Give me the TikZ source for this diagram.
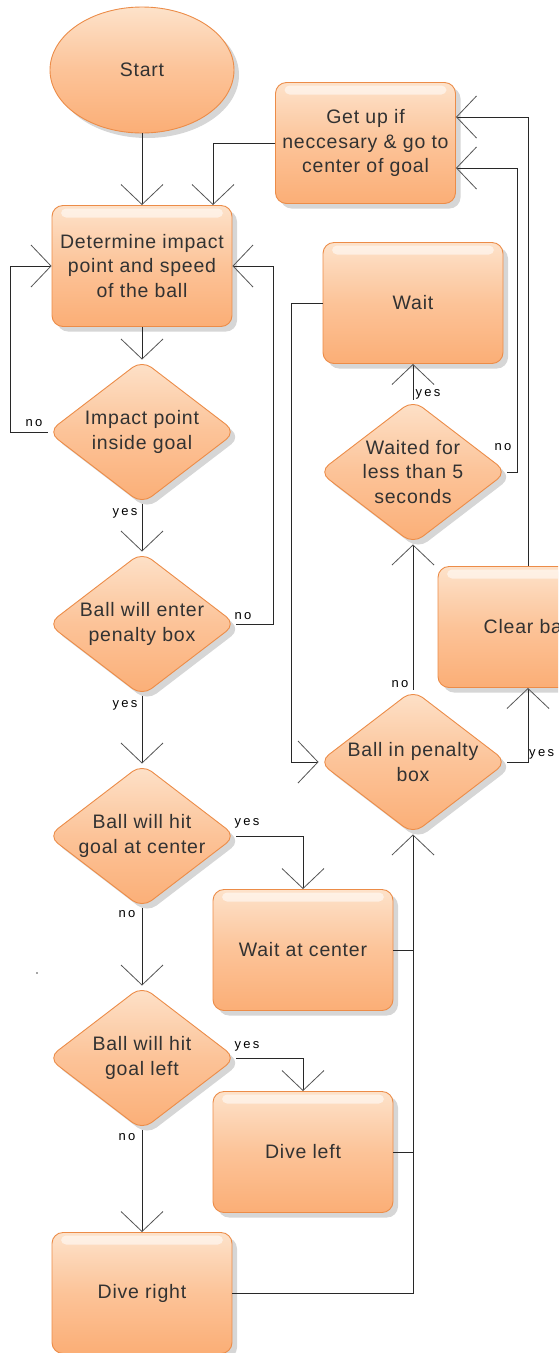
\documentclass[tikz,border=0pt]{standalone}
\usepackage{fontspec}
\setmainfont{Liberation Sans}
\newfontfamily\boxfont{Liberation Sans}[LetterSpace=4]
\newfontfamily\lblfont{Liberation Sans}[LetterSpace=18]
\usetikzlibrary{shapes.geometric,arrows.meta,shadows}
\definecolor{boxtop}{RGB}{253,226,202}
\definecolor{boxmid}{RGB}{252,195,152}
\definecolor{boxbot}{RGB}{251,174,118}
\definecolor{boxline}{RGB}{236,140,72}
\definecolor{wirec}{RGB}{40,40,40}
\definecolor{tipc}{RGB}{85,85,85}
\definecolor{txtc}{RGB}{50,50,50}
\tikzset{
 base/.style={draw=boxline, line width=0.9pt, top color=boxtop, bottom color=boxbot, middle color=boxmid,
   drop shadow={shadow xshift=5pt, shadow yshift=-5pt, fill=black, opacity=0.16}, inner sep=0pt},
 gloss/.style={path picture={\fill[white,opacity=0.55,rounded corners=5pt]
   ([xshift=9pt,yshift=-3pt]path picture bounding box.north west) rectangle
   ([xshift=-9pt,yshift=-12pt]path picture bounding box.north east);}},
 proc/.style={base, gloss, rectangle, rounded corners=11pt, minimum width=180pt, minimum height=121pt},
 dec/.style={base, diamond, rounded corners=12pt, minimum width=188pt, minimum height=144pt},
 term/.style={base, ellipse, minimum width=184pt, minimum height=126pt},
 txt/.style={font=\boxfont\fontsize{19.5}{24.5}\selectfont, text=txtc, align=center, inner sep=0pt},
 lbl/.style={font=\lblfont\fontsize{13}{15}\selectfont, text=black, inner sep=0pt},
 wire/.style={draw=wirec, line width=0.8pt},
 arr/.style={wire, -{Straight Barb[length=20pt,width=42pt,line width=0.8pt,color=tipc]}},
}
\begin{document}
\begin{tikzpicture}[x=1pt,y=-1pt]
\clip (0,0) rectangle (558,1353);
\fill[white] (0,0) rectangle (558,1353);
% nodes
\node[term] (start) at (142,70) {};
\node[txt] at (start) {Start};
\node[proc] (det) at (142,266) {};
\node[txt] at (det) {Determine impact\\point and speed\\of the ball};
\node[dec] (imp) at (142,432) {};
\node[txt] at (imp) {Impact point\\inside goal};
\node[dec] (ent) at (142,624) {};
\node[txt] at (ent) {Ball will enter\\penalty box};
\node[dec] (ctr) at (142,836) {};
\node[txt] at (ctr) {Ball will hit\\goal at center};
\node[proc] (wac) at (303,950) {};
\node[txt] at (wac) {Wait at center};
\node[dec] (lft) at (142,1058) {};
\node[txt] at (lft) {Ball will hit\\goal left};
\node[proc] (dl) at (303,1152) {};
\node[txt] at (dl) {Dive left};
\node[proc] (dr) at (142,1293) {};
\node[txt] at (dr) {Dive right};
\node[proc] (getup) at (365.5,143) {};
\node[txt] at (getup) {Get up if\\neccesary \& go to\\center of goal};
\node[proc] (wait) at (413,303) {};
\node[txt] at (wait) {Wait};
\node[dec] (wt) at (413,472) {};
\node[txt] at (wt) {Waited for\\less than 5\\seconds};
\node[dec] (pen) at (413,762) {};
\node[txt] at (pen) {Ball in penalty\\box};
\node[proc] (clr) at (528,627) {};
\node[txt] at (clr) {Clear ball};
% connectors
\draw[arr] (start.south) -- (det.north);
\draw[arr] (getup.west) -| ([xshift=71pt]det.north);
\draw[arr] (det.south) -- (imp.north);
\draw[arr] (imp.west) -- ++(-37,0) |- (det.west);
\draw[arr] (imp.south) -- (ent.north);
\draw[arr] (ent.east) -- ++(37,0) |- (det.east);
\draw[arr] (ent.south) -- (ctr.north);
\draw[arr] (ctr.east) -| (wac.north);
\draw[arr] (ctr.south) -- (lft.north);
\draw[arr] (lft.east) -| (dl.north);
\draw[arr] (lft.south) -- (dr.north);
\draw[wire] (wac.east) -- ++(20,0);
\draw[wire] (dl.east) -- ++(20,0);
\draw[arr] (dr.east) -| (pen.south);
\draw[arr] (pen.east) -| (clr.south);
\draw[arr] (pen.north) -- (wt.south);
\draw[arr] (wt.north) -- (wait.south);
\draw[arr] (wt.east) -- ++(10,0) |- ([yshift=-25pt]getup.east);
\draw[arr] (clr.north) |- ([yshift=26pt]getup.east);
\draw[arr] (wait.west) -- ++(-31,0) |- (pen.west);
% labels
\node[lbl] (l1) at (34,423) {no};
\node[lbl] (l2) at (125,513) {yes};
\node[lbl] (l3) at (243,616) {no};
\node[lbl] (l4) at (125,705) {yes};
\node[lbl] (l5) at (247,823) {yes};
\node[lbl] (l6) at (127,914) {no};
\node[lbl] (l7) at (247,1046) {yes};
\node[lbl] (l8) at (127,1137) {no};
\node[lbl] (l9) at (428,394) {yes};
\node[lbl] (l10) at (503,447) {no};
\node[lbl] (l11) at (400,684) {no};
\node[lbl,anchor=west] (l12) at (529,754) {yes};
\fill[black!70] (37,973) circle (0.8pt);
\end{tikzpicture}
\end{document}
